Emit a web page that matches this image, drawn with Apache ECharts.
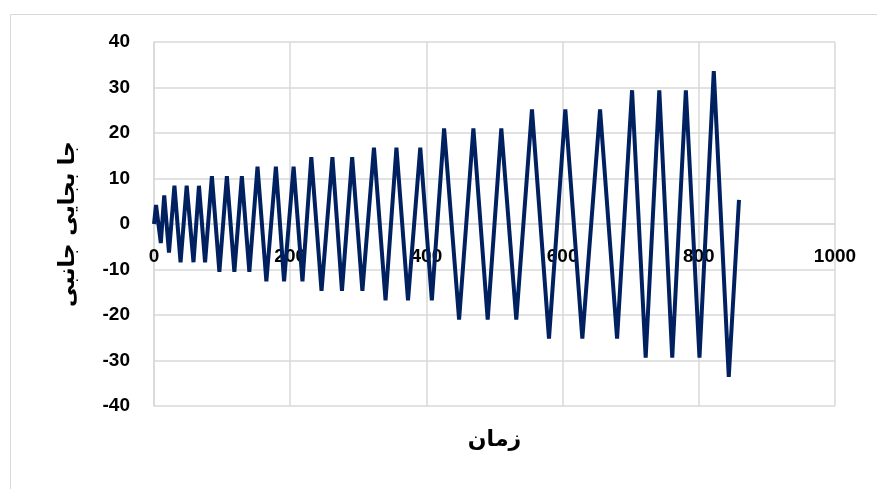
<!DOCTYPE html>
<html>
<head>
<meta charset="utf-8">
<script src="https://cdn.jsdelivr.net/npm/echarts@6/dist/echarts.min.js"></script>
<style>
html,body{margin:0;padding:0;background:#fff;}
#chart{width:877px;height:489px;}
</style>
</head>
<body>
<div id="chart"></div>
<script>
// time (x) values
var time = [0,3,10,15,22,30,39,48,58,66,75,85,96,107,118,129,140,152,165,179,191,205,218,231,246,262,276,291,306,323,340,356,373,391,408,426,448,469,490,510,532,555,580,604,629,655,680,702,722,742,761,781,801,822,844,859];
// lateral displacement (y) values
var displacement = [0,4.2,-4.2,6.3,-6.3,8.4,-8.4,8.4,-8.4,8.4,-8.4,10.5,-10.5,10.5,-10.5,10.5,-10.5,12.6,-12.6,12.6,-12.6,12.6,-12.6,14.7,-14.7,14.7,-14.7,14.7,-14.7,16.8,-16.8,16.8,-16.8,16.8,-16.8,21,-21,21,-21,21,-21,25.2,-25.2,25.2,-25.2,25.2,-25.2,29.4,-29.4,29.4,-29.4,29.4,-29.4,33.6,-33.6,5.3];
var xTitle = 'زمان';
var yTitle = 'جا بجایی جانبی';

var seriesData = time.map(function(t, i){ return [t, displacement[i]]; });

var chart = echarts.init(document.getElementById('chart'), null, {renderer:'canvas'});
var labelFont = {color:'#000', fontWeight:'bold', fontSize:19, fontFamily:'Liberation Sans, Arial, sans-serif'};
chart.setOption({
  animation:false,
  backgroundColor:'#fff',
  graphic:[{type:'rect', left:8, top:12, shape:{width:900, height:500}, style:{fill:'none', stroke:'#d9d9d9', lineWidth:1}, silent:true}],
  grid:{left:154, right:42, top:42, bottom:83, containLabel:false, outerBoundsMode:'none'},
  xAxis:{
    type:'value', min:0, max:1000, interval:200,
    position:'bottom', offset:-182,
    name:xTitle, nameLocation:'middle', nameGap:205,
    nameTextStyle:{color:'#000', fontWeight:'bold', fontSize:22, fontFamily:'DejaVu Sans, sans-serif'},
    axisLine:{show:true, onZero:false, lineStyle:{color:'#d9d9d9', width:1.5}},
    axisTick:{show:false},
    axisLabel:Object.assign({margin:23, formatter:function(v){return String(v);}}, labelFont),
    splitLine:{show:true, lineStyle:{color:'#d9d9d9', width:1.5}}
  },
  yAxis:{
    type:'value', min:-40, max:40, interval:10,
    name:yTitle, nameLocation:'middle', nameGap:75, nameRotate:90,
    nameTextStyle:{color:'#000', fontWeight:'bold', fontSize:22, fontFamily:'DejaVu Sans, sans-serif'},
    axisLine:{show:true, lineStyle:{color:'#d9d9d9', width:1.5}},
    axisTick:{show:false},
    axisLabel:Object.assign({margin:24}, labelFont),
    splitLine:{show:true, lineStyle:{color:'#d9d9d9', width:1.5}}
  },
  series:[{
    type:'line', data:seriesData, showSymbol:false, symbol:'none',
    lineStyle:{color:'#002060', width:4},
    itemStyle:{color:'#002060'}
  }]
});
</script>
</body>
</html>
